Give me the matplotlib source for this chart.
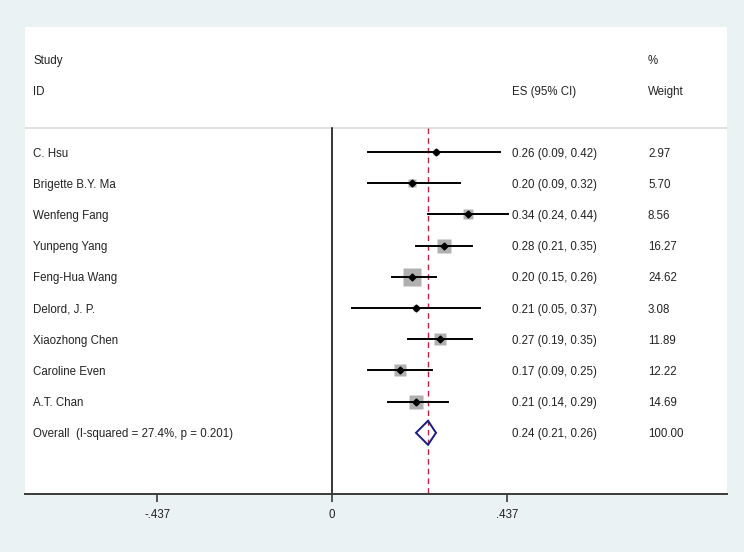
import matplotlib.pyplot as plt
from matplotlib.patches import Polygon

# Dane badań
studies = ['C. Hsu', 'Brigette B.Y. Ma', 'Wenfeng Fang', 'Yunpeng Yang', 'Feng-Hua Wang',
           'Delord, J. P.', 'Xiaozhong Chen', 'Caroline Even', 'A.T. Chan']
es = [0.26, 0.20, 0.34, 0.28, 0.20, 0.21, 0.27, 0.17, 0.21]
lo = [0.09, 0.09, 0.24, 0.21, 0.15, 0.05, 0.19, 0.09, 0.14]
hi = [0.42, 0.32, 0.44, 0.35, 0.26, 0.37, 0.35, 0.25, 0.29]
weights = [2.97, 5.70, 8.56, 16.27, 24.62, 3.08, 11.89, 12.22, 14.69]

overall_label = 'Overall  (I-squared = 27.4%, p = 0.201)'
overall_es, overall_lo, overall_hi = 0.24, 0.21, 0.26
overall_weight = 100.00

xticks = [-0.437, 0, 0.437]
xticklabels = ['-.437', '0', '.437']

bg = '#EAF2F3'
W, H = 744, 552
fig = plt.figure(figsize=(W / 100, H / 100), dpi=100)
fig.patch.set_facecolor(bg)

# panel (piksele)
left, right, top, bottom = 25, 727, 27, 494
ax = fig.add_axes([left / W, (H - bottom) / H, (right - left) / W, (bottom - top) / H])
ax.set_facecolor('white')

row_px = 31.2
first_px = 152
ax.set_ylim((bottom - first_px) / row_px, (top - first_px) / row_px)
ax.set_xlim((left - 332) / 400, (right - 332) / 400)

for s in ['top', 'right', 'left']:
    ax.spines[s].set_visible(False)
ax.spines['bottom'].set_color('#3a3a3a')
ax.spines['bottom'].set_linewidth(1.4)
ax.set_yticks([])
ax.set_xticks(xticks)
ax.set_xticklabels(xticklabels)

font = 'Liberation Sans'
fs = 8.3
tc = '#222222'
ax.tick_params(axis='x', length=6, width=1.2, color='#3a3a3a', labelsize=fs, pad=5,
               labelcolor=tc)
for lab in ax.get_xticklabels():
    lab.set_fontfamily(font)

line_top = (128 - first_px) / row_px
ybot = (bottom - first_px) / row_px
ax.axhline(line_top, color='#dcdcdc', lw=1.2)
ax.plot([0, 0], [line_top, ybot], color='black', lw=1.1)
ax.plot([overall_es, overall_es], [line_top, ybot], color='#b3263a', lw=1.0,
        dashes=(4, 3))

x_es = (512 - 332) / 400
x_w = (648 - 332) / 400
x_lab = (33 - 332) / 400
dy = 1.5 / row_px  # drobne przesunięcie tekstu w dół

def txt(x, y, s):
    ax.text(x, y + dy, s, va='center', fontsize=fs, family=font, color=tc)

for i in range(len(studies)):
    side = 2.66 * weights[i] ** 0.5
    ax.plot(es[i], i, marker='s', ms=side, color='#b0b0b0', mec='none', zorder=2)
    ax.plot([lo[i], hi[i]], [i, i], color='black', lw=1.4, zorder=3)
    ax.plot(es[i], i, marker='D', ms=3.5, color='black', zorder=4)
    txt(x_lab, i, studies[i])
    txt(x_es, i, f'{es[i]:.2f} ({lo[i]:.2f}, {hi[i]:.2f})')
    txt(x_w, i, f'{weights[i]:.2f}')

r = len(studies)
h = 12 / row_px
ax.add_patch(Polygon([(overall_lo, r), (overall_es, r - h), (overall_hi, r), (overall_es, r + h)],
                     closed=True, fill=False, edgecolor='#1a1a80', lw=1.4, zorder=5))
txt(x_lab, r, overall_label)
txt(x_es, r, f'{overall_es:.2f} ({overall_lo:.2f}, {overall_hi:.2f})')
txt(x_w, r, f'{overall_weight:.2f}')

# nagłówki
y_study = (59 - first_px) / row_px
y_id = (90 - first_px) / row_px
txt(x_lab, y_study, 'Study')
txt(x_lab, y_id, 'ID')
txt(x_es, y_id, 'ES (95% CI)')
txt(x_w, y_study, '%')
txt(x_w, y_id, 'Weight')

fig.savefig('out.png', dpi=100, facecolor=bg)
